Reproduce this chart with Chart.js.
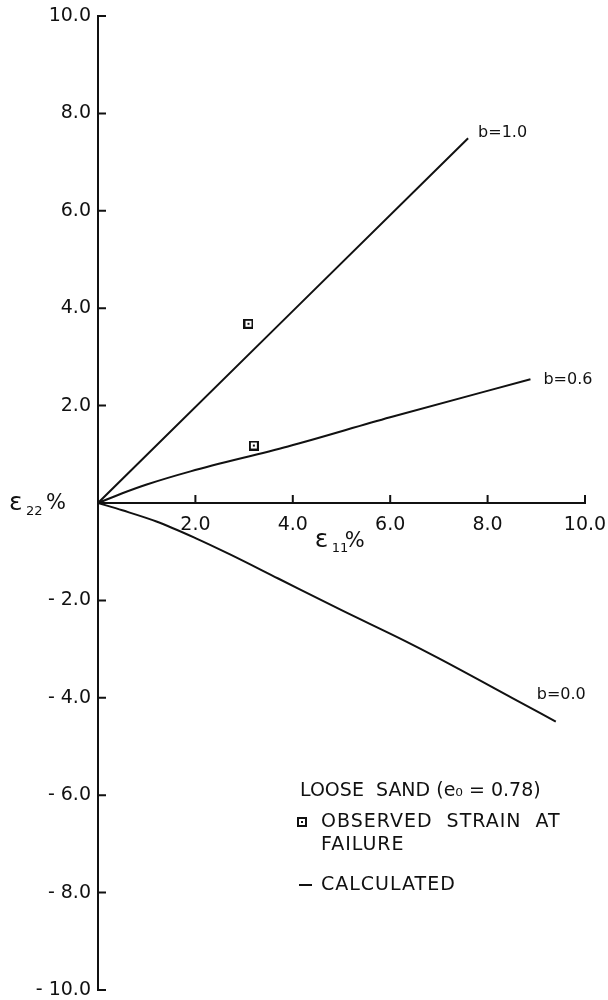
<!DOCTYPE html>
<html>
<head>
<meta charset="utf-8">
<title>Strain paths - loose sand</title>
<script src="https://cdn.jsdelivr.net/npm/chart.js@4.4.1/dist/chart.umd.min.js"></script>
<style>
  html, body { margin: 0; padding: 0; background: #fff; }
  #wrap { width: 608px; height: 1000px; }
</style>
</head>
<body>
<div id="wrap"><canvas id="strainChart" width="608" height="1000"></canvas></div>
<script>
// calculated strain paths (eps11 %, eps22 %)
const b10X = [0, 7.6];
const b10Y = [0, 7.49];
const b06X = [0, 0.5, 1.0, 1.9, 3.9, 6.0, 8.88];
const b06Y = [0, 0.2, 0.38, 0.65, 1.16, 1.76, 2.54];
const b00X = [0, 0.5, 1.2, 2.0, 2.7, 3.7, 5.0, 6.3, 7.0, 8.5, 9.4];
const b00Y = [0, -0.15, -0.38, -0.72, -1.05, -1.55, -2.2, -2.83, -3.19, -4.0, -4.49];

// observed strain at failure
const obsX = [3.09, 3.2];
const obsY = [3.68, 1.18];

const curveNames = ['b=1.0', 'b=0.6', 'b=0.0'];
const xTicks = [2, 4, 6, 8, 10];
const yTicks = [10, 8, 6, 4, 2, -2, -4, -6, -8, -10];

const FONT = '"DejaVu Sans", "Liberation Sans", sans-serif';

function toPoints(xs, ys) {
    return xs.map((x, i) => ({ x: x, y: ys[i] }));
}

// little square with a dot, like the plotted symbol
function makeSquareMarker() {
    const c = document.createElement('canvas');
    c.width = 10;
    c.height = 10;
    const g = c.getContext('2d');
    g.fillStyle = '#fff';
    g.fillRect(0, 0, 10, 10);
    g.strokeStyle = '#111';
    g.lineWidth = 2;
    g.strokeRect(1, 1, 8, 8);
    g.fillStyle = '#111';
    g.fillRect(4, 4, 2, 2);
    return c;
}
const squareMarker = makeSquareMarker();

function lineSet(label, xs, ys) {
    return {
        label: label,
        data: toPoints(xs, ys),
        showLine: true,
        borderColor: '#111',
        borderWidth: 2,
        pointRadius: 0,
        cubicInterpolationMode: 'monotone',
        fill: false
    };
}

// ticks, axis titles, curve labels and the key
const decorPlugin = {
    id: 'decor',
    afterDraw(chart) {
        const ctx = chart.ctx;
        const xs = chart.scales.x;
        const ys = chart.scales.y;
        const x0 = xs.getPixelForValue(0);
        const y0 = ys.getPixelForValue(0);

        ctx.save();
        ctx.strokeStyle = '#111';
        ctx.lineWidth = 2;
        ctx.beginPath();
        yTicks.forEach(v => {
            const p = ys.getPixelForValue(v);
            ctx.moveTo(x0, p);
            ctx.lineTo(x0 + 8, p);
        });
        xTicks.forEach(v => {
            const p = xs.getPixelForValue(v);
            ctx.moveTo(p, y0);
            ctx.lineTo(p, y0 - 8);
        });
        ctx.stroke();

        ctx.fillStyle = '#111';
        ctx.textBaseline = 'middle';
        ctx.textAlign = 'left';

        // axis titles
        ctx.font = '25px ' + FONT;
        ctx.fillText('\u03b5', 9, y0);
        ctx.font = '21px ' + FONT;
        ctx.fillText('%', 46, y0 + 1);
        ctx.font = '13px ' + FONT;
        ctx.fillText('22', 26, y0 + 9);

        const tx = xs.getPixelForValue(4.45);
        ctx.font = '25px ' + FONT;
        ctx.fillText('\u03b5', tx, y0 + 37);
        ctx.font = '21px ' + FONT;
        ctx.fillText('%', tx + 30, y0 + 39);
        ctx.font = '13px ' + FONT;
        ctx.fillText('11', tx + 17, y0 + 46);

        // curve labels next to the end of each line
        ctx.font = '16px ' + FONT;
        const offsets = [[10, -5], [13, 1], [-19, -27]];
        [0, 1, 2].forEach(i => {
            const pts = chart.data.datasets[i].data;
            const last = pts[pts.length - 1];
            const px = xs.getPixelForValue(last.x);
            const py = ys.getPixelForValue(last.y);
            ctx.fillText(curveNames[i], px + offsets[i][0], py + offsets[i][1]);
        });

        // key
        ctx.font = '19px ' + FONT;
        ctx.fillText('LOOSE  SAND (e\u2080 = 0.78)', 300, 791);
        ctx.letterSpacing = '1px';
        ctx.fillText('OBSERVED  STRAIN  AT', 321, 822);
        ctx.fillText('FAILURE', 321, 845);
        ctx.fillText('CALCULATED', 321, 885);
        ctx.letterSpacing = '0px';
        ctx.drawImage(squareMarker, 297, 817);
        ctx.beginPath();
        ctx.moveTo(299, 885);
        ctx.lineTo(312, 885);
        ctx.stroke();
        ctx.restore();
    }
};

const chart = new Chart(document.getElementById('strainChart'), {
    type: 'scatter',
    data: {
        datasets: [
            lineSet(curveNames[0], b10X, b10Y),
            lineSet(curveNames[1], b06X, b06Y),
            lineSet(curveNames[2], b00X, b00Y),
            {
                label: 'Observed strain at failure',
                data: toPoints(obsX, obsY),
                showLine: false,
                pointStyle: squareMarker,
                pointRadius: 5
            }
        ]
    },
    options: {
        responsive: false,
        animation: false,
        devicePixelRatio: 1,
        layout: { padding: { top: 16, right: 23, bottom: 10, left: 0 } },
        plugins: {
            legend: { display: false },
            tooltip: { enabled: false }
        },
        scales: {
            x: {
                type: 'linear',
                min: 0,
                max: 10,
                position: { y: 0 },
                grid: { display: false, drawTicks: false },
                border: { display: true, color: '#111', width: 2 },
                ticks: {
                    stepSize: 2,
                    color: '#111',
                    padding: 11,
                    maxRotation: 0,
                    font: { family: FONT, size: 19 },
                    callback: v => (v === 0 ? '' : v.toFixed(1))
                },
                afterFit: scale => {
                    scale.paddingLeft = 0;
                    scale.paddingRight = 0;
                    scale.paddingTop = 0;
                    scale.paddingBottom = 0;
                }
            },
            y: {
                type: 'linear',
                min: -10,
                max: 10,
                position: 'left',
                grid: { display: false, drawTicks: false },
                border: { display: true, color: '#111', width: 2 },
                ticks: {
                    stepSize: 2,
                    color: '#111',
                    padding: 7,
                    font: { family: FONT, size: 19 },
                    callback: v => (v === 0 ? '' : (v < 0 ? '- ' + Math.abs(v).toFixed(1) : v.toFixed(1)))
                },
                afterFit: scale => {
                    scale.width = 98;
                    scale.paddingTop = 0;
                    scale.paddingBottom = 0;
                }
            }
        }
    },
    plugins: [decorPlugin]
});
</script>
</body>
</html>
